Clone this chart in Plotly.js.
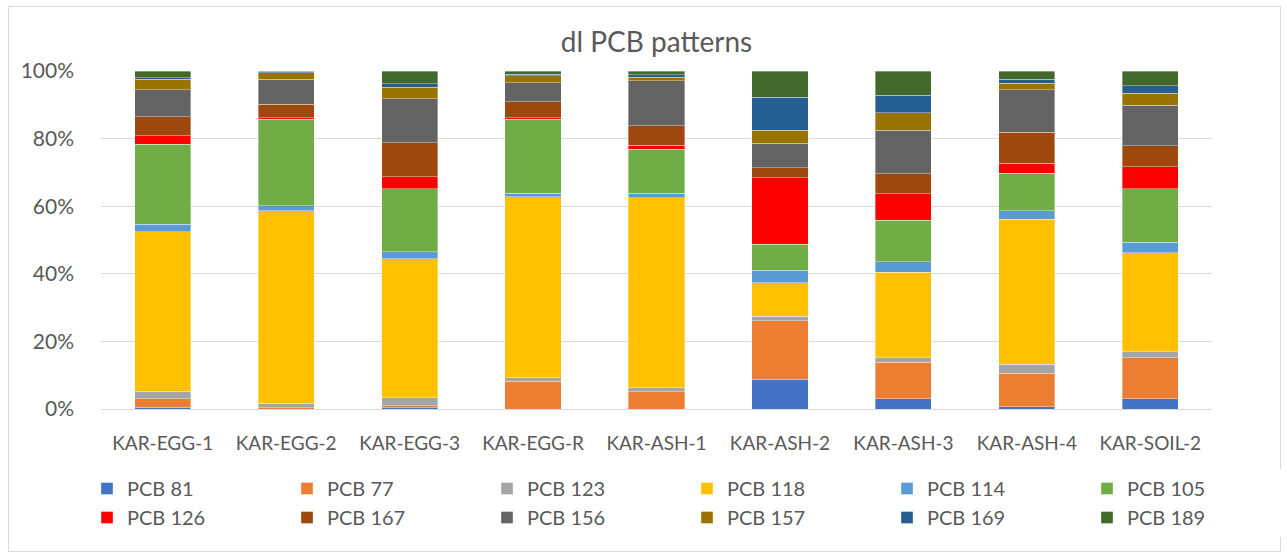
<!DOCTYPE html>
<html>
<head>
<meta charset="utf-8">
<script src="https://cdn.plot.ly/plotly-3.0.1.min.js"></script>
<style>
html,body{margin:0;padding:0;background:#fff;}
#chart{width:1287px;height:558px;}
</style>
</head>
<body>
<div id="chart"></div>
<script>
const categories = ["KAR-EGG-1","KAR-EGG-2","KAR-EGG-3","KAR-EGG-R","KAR-ASH-1","KAR-ASH-2","KAR-ASH-3","KAR-ASH-4","KAR-SOIL-2"];
const seriesNames = ["PCB 81","PCB 77","PCB 123","PCB 118","PCB 114","PCB 105","PCB 126","PCB 167","PCB 156","PCB 157","PCB 169","PCB 189"];
const pcb81  = [0.5, 0.0, 0.4, 0.0, 0.0, 8.8, 3.0, 0.6, 3.0];
const pcb77  = [2.5, 0.3, 0.6, 8.2, 5.1, 17.3, 10.9, 10.0, 12.2];
const pcb123 = [2.2, 1.4, 2.35, 1.1, 1.2, 1.4, 1.2, 2.6, 1.8];
const pcb118 = [47.3, 56.9, 41.1, 53.5, 56.2, 9.8, 25.4, 43.0, 29.3];
const pcb114 = [2.2, 1.6, 2.1, 1.1, 1.3, 3.8, 3.1, 2.5, 3.1];
const pcb105 = [23.7, 25.6, 18.6, 21.9, 13.1, 7.7, 12.3, 11.1, 15.8];
const pcb126 = [2.4, 0.3, 3.5, 0.4, 1.1, 19.6, 7.8, 2.9, 6.4];
const pcb167 = [5.7, 4.0, 10.1, 4.7, 5.8, 3.0, 5.9, 9.2, 6.3];
const pcb156 = [8.0, 7.4, 13.0, 5.6, 13.3, 7.2, 12.9, 12.5, 12.0];
const pcb157 = [3.0, 2.0, 3.4, 2.1, 1.0, 3.9, 5.2, 2.0, 3.5];
const pcb169 = [0.5, 0.3, 1.0, 0.4, 0.8, 9.7, 5.1, 1.2, 2.3];
const pcb189 = [2.0, 0.2, 3.8, 1.0, 1.1, 7.8, 7.2, 2.4, 4.3];
const seriesValues = [pcb81, pcb77, pcb123, pcb118, pcb114, pcb105, pcb126, pcb167, pcb156, pcb157, pcb169, pcb189];
const colors = ["#4472C4","#ED7D31","#A5A5A5","#FFC000","#5B9BD5","#70AD47","#FF0000","#9E480E","#636363","#997300","#255E91","#43682B"];
const yTickVals = [0,20,40,60,80,100];
const yTickText = ["0%","20%","40%","60%","80%","100%"];

const FONT = "Lato, 'Open Sans', sans-serif";
const W = 1287, H = 558;
const L = 101, R = 75, T = 71, B = 149;
const pw = W - L - R, ph = H - T - B;

const traces = seriesNames.map((name, i) => ({
  type: 'bar',
  name: name,
  x: categories,
  y: seriesValues[i],
  marker: {color: colors[i], line: {color: 'rgba(255,255,255,0.6)', width: 0.6}},
  hoverinfo: 'x+y+name'
}));

const px2x = p => (p - L) / pw;
const px2y = p => (H - B - p) / ph;

const layout = {
  width: W, height: H,
  margin: {l: L, r: R, t: T, b: B, pad: 0},
  paper_bgcolor: '#ffffff',
  plot_bgcolor: '#ffffff',
  barmode: 'stack',
  barnorm: 'percent',
  bargap: 0.545,
  font: {family: FONT, color: '#595959', size: 20},
  title: {text: 'dl PCB patterns', x: 0.5, xref: 'paper', xanchor: 'center', y: 1 - 42 / H, yanchor: 'middle', font: {family: FONT, size: 28, color: '#595959'}},
  xaxis: {
    type: 'category',
    showgrid: false,
    showline: true,
    linecolor: '#d9d9d9',
    linewidth: 1,
    ticks: '',
    ticklabelstandoff: 17,
    tickfont: {family: FONT, size: 19, color: '#595959'},
    zeroline: false
  },
  yaxis: {
    range: [0, 100],
    tickvals: yTickVals,
    ticktext: yTickText,
    showgrid: true,
    gridcolor: '#d9d9d9',
    gridwidth: 1,
    zeroline: false,
    showline: false,
    ticks: '',
    ticklabelstandoff: 26,
    tickfont: {family: FONT, size: 21, color: '#595959'}
  },
  legend: {
    orientation: 'h',
    xref: 'paper', yref: 'paper',
    x: px2x(90), y: px2y(469),
    xanchor: 'left', yanchor: 'top',
    traceorder: 'normal',
    entrywidth: 155, entrywidthmode: 'pixels',
    font: {family: FONT, size: 20, color: '#595959'},
    itemclick: false, itemdoubleclick: false,
    tracegroupgap: 0
  },
  shapes: [{
    type: 'rect', xref: 'paper', yref: 'paper',
    x0: px2x(8.5), x1: px2x(1280.5), y0: px2y(6.5), y1: px2y(551.5),
    line: {color: '#d9d9d9', width: 1}, fillcolor: 'rgba(0,0,0,0)', layer: 'below'
  }],
  showlegend: true,
  hovermode: 'closest'
};

Plotly.newPlot('chart', traces, layout, {displayModeBar: false, staticPlot: false});
</script>
</body>
</html>
